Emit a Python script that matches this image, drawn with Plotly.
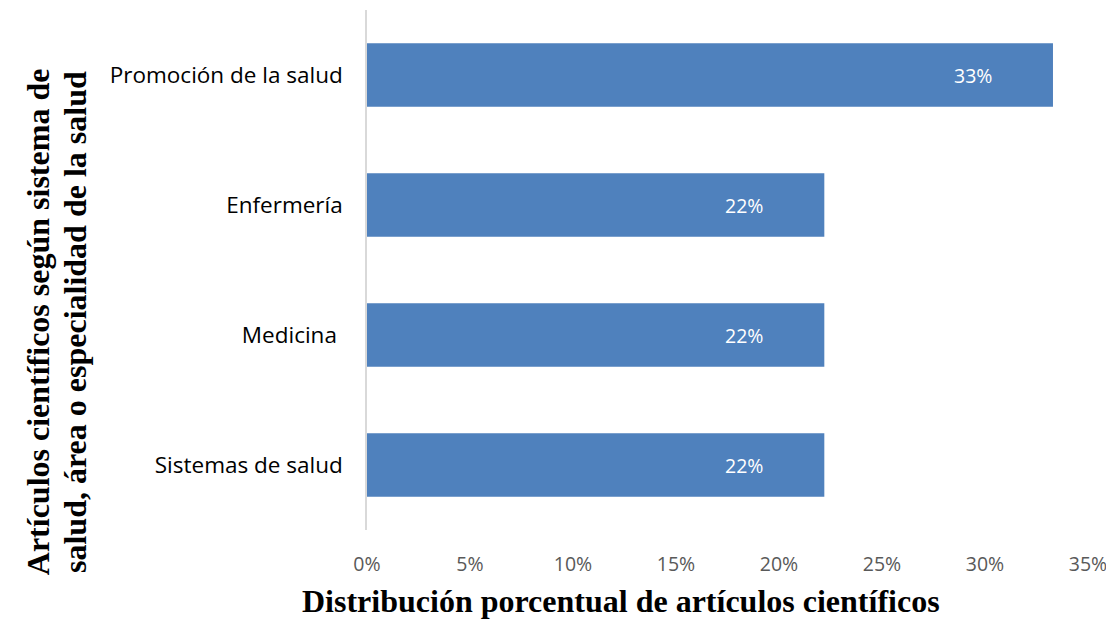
import plotly.graph_objects as go

categories = ["Promoción de la salud", "Enfermería", "Medicina ", "Sistemas de salud"]
values = [33.3, 22.2, 22.2, 22.2]
labels = ["33%", "22%", "22%", "22%"]
tick_vals = [0, 5, 10, 15, 20, 25, 30, 35]
tick_text = ["0%", "5%", "10%", "15%", "20%", "25%", "30%", "35%"]

fig = go.Figure()
fig.add_trace(go.Bar(
    y=categories, x=values, orientation="h",
    marker=dict(color="#4f81bd", line=dict(width=0)),
    width=0.49,
    hoverinfo="skip",
))

for c, v, t in zip(categories, values, labels):
    fig.add_annotation(x=v, y=c, text=t, showarrow=False, xanchor="right",
                       xshift=-59, font=dict(family="Open Sans", size=19.5, color="white"))

fig.add_annotation(text="<b>Distribución porcentual de artículos científicos</b>",
                   xref="paper", yref="paper", x=0.352, y=-0.137, xanchor="center",
                   yanchor="middle", showarrow=False,
                   font=dict(family="Liberation Serif", size=32, color="black"))
fig.add_annotation(text="<b>Artículos científicos según sistema de</b>",
                   xref="paper", yref="paper", x=-0.456, y=0.40, xanchor="center",
                   yanchor="middle", showarrow=False, textangle=-90,
                   font=dict(family="Liberation Serif", size=32, color="black"))
fig.add_annotation(text="<b>salud, área o especialidad de la salud</b>",
                   xref="paper", yref="paper", x=-0.405, y=0.40, xanchor="center",
                   yanchor="middle", showarrow=False, textangle=-90,
                   font=dict(family="Liberation Serif", size=32, color="black"))

fig.update_layout(
    width=1106, height=611,
    margin=dict(l=359, r=26, t=2, b=89),
    plot_bgcolor="white", paper_bgcolor="white",
    showlegend=False,
    xaxis=dict(range=[0, 35], tickvals=tick_vals, ticktext=tick_text,
               showgrid=False, zeroline=False, showline=False,
               ticks="", ticklabelstandoff=20,
               tickfont=dict(family="Open Sans", size=19.5, color="#595959")),
    yaxis=dict(categoryorder="array", categoryarray=categories[::-1],
               showgrid=False, zeroline=False, showline=True, linecolor="#d9d9d9",
               linewidth=1.5, ticks="", ticklabelstandoff=18,
               tickfont=dict(family="Open Sans", size=22.5, color="black")),
)

fig.write_html("out.html")
